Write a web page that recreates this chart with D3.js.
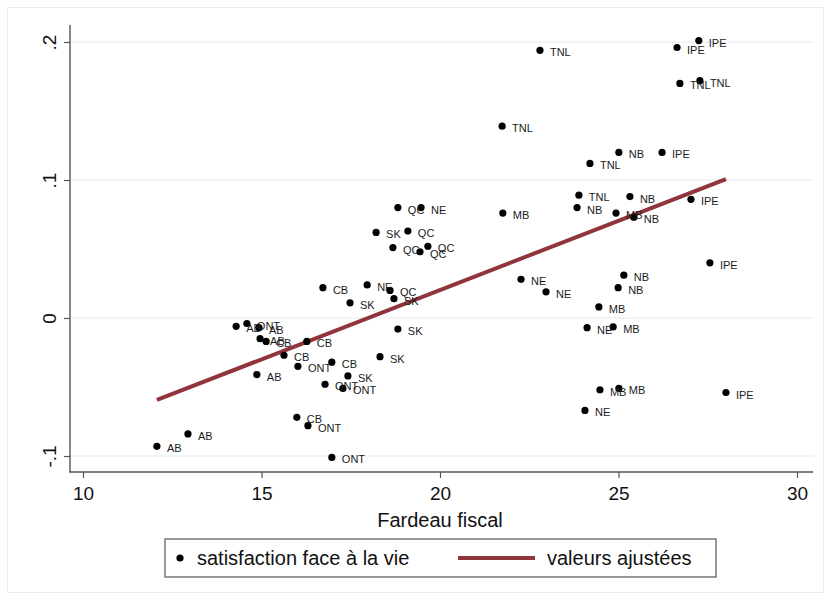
<!DOCTYPE html>
<html>
<head>
<meta charset="utf-8">
<script src="https://cdn.jsdelivr.net/npm/d3@7"></script>
<style>
  body { margin: 0; background: #fff; }
  svg { display: block; font-family: "Liberation Sans", Arial, Helvetica, sans-serif; }
</style>
</head>
<body>
<svg id="chart" width="831" height="600"></svg>
<script>
// ---- data ----
const provinces = ["TNL","IPE","IPE","TNL","TNL","TNL","NB","IPE","TNL","TNL",
  "NB","IPE","NB","MB","MB","NB","QC","NE","SK","QC",
  "QC","QC","QC","CB","NE","QC","SK","SK","NE","NE",
  "NB","NB","MB","NE","MB","IPE","SK","MB","MB","NE",
  "IPE","AB","ONT","AB","AB","CB","CB","CB","ONT","CB",
  "SK","AB","SK","ONT","ONT","CB","ONT","ONT","AB","AB"];
const fardeau = [22.80,27.25,26.64,27.28,26.72,21.74,25.01,26.22,24.20,23.89,
  25.32,27.03,23.84,21.76,24.93,25.43,18.82,19.47,18.21,19.10,
  18.68,19.66,19.44,16.72,17.96,18.60,17.48,18.71,22.27,22.97,
  25.15,24.99,24.45,24.12,24.85,27.56,18.82,24.48,25.01,24.06,
  28.01,14.29,14.59,14.93,14.96,15.13,16.27,15.63,16.02,16.97,
  18.32,14.87,17.42,16.78,17.28,15.99,16.30,16.97,12.94,12.07];
const satisfaction = [0.194,0.201,0.196,0.172,0.170,0.139,0.120,0.120,0.112,0.089,
  0.088,0.086,0.080,0.076,0.076,0.073,0.080,0.080,0.062,0.063,
  0.051,0.052,0.048,0.022,0.024,0.020,0.011,0.014,0.028,0.019,
  0.031,0.022,0.008,-0.007,-0.0065,0.040,-0.008,-0.052,-0.051,-0.067,
  -0.054,-0.006,-0.004,-0.007,-0.015,-0.017,-0.017,-0.027,-0.035,-0.032,
  -0.028,-0.041,-0.042,-0.048,-0.051,-0.072,-0.078,-0.101,-0.084,-0.093];
const fitX = [12.07, 28.01];
const fitY = [-0.0594, 0.1007];
const xTicks = [10, 15, 20, 25, 30];
const yTicks = [-0.1, 0, 0.1, 0.2];
const yTickLabels = ["-.1", "0", ".1", ".2"];
const xTitle = "Fardeau fiscal";
const legendLabels = ["satisfaction face à la vie", "valeurs ajustées"];

// ---- drawing ----
const svg = d3.select("#chart");
const maroon = "rgb(144,53,59)";

svg.append("rect").attr("x", 7.5).attr("y", 7.5).attr("width", 816).attr("height", 585)
  .attr("fill", "#fff").attr("stroke", "#ebebeb");

const x = d3.scaleLinear().domain([10, 30]).range([83, 797]);
const y = d3.scaleLinear().domain([-0.1, 0.2]).range([456, 42]);

const plotLeft = 70, plotRight = 813, plotBottom = 472, plotTop = 25;

// gridlines
svg.append("g").selectAll("line").data(yTicks).join("line")
  .attr("x1", plotLeft).attr("x2", plotRight)
  .attr("y1", d => y(d)).attr("y2", d => y(d))
  .attr("stroke", "#e4ebee").attr("stroke-width", 1.2);

// y axis
const yAxis = d3.axisLeft(y).tickValues(yTicks)
  .tickFormat((d, i) => yTickLabels[i]).tickSize(6).tickPadding(0);
const gy = svg.append("g").attr("transform", `translate(${plotLeft},0)`).call(yAxis);
gy.select(".domain").remove();
gy.selectAll(".tick line").attr("stroke", "#555").attr("stroke-width", 1.2);
gy.selectAll(".tick text").remove();
gy.selectAll(".tick").append("text")
  .attr("transform", "translate(-14,0) rotate(-90)")
  .attr("text-anchor", "middle").attr("fill", "#111")
  .attr("font-size", 19)
  .text((d, i) => yTickLabels[i]);
svg.append("line").attr("x1", plotLeft).attr("x2", plotLeft)
  .attr("y1", plotTop).attr("y2", plotBottom)
  .attr("stroke", "#555").attr("stroke-width", 1.4);

// x axis
const xAxis = d3.axisBottom(x).tickValues(xTicks).tickFormat(d3.format("d"))
  .tickSize(6).tickPadding(9);
const gx = svg.append("g").attr("transform", `translate(0,${plotBottom})`).call(xAxis);
gx.select(".domain").remove();
gx.selectAll(".tick line").attr("stroke", "#555").attr("stroke-width", 1.2);
gx.selectAll(".tick text").attr("font-size", 19).attr("fill", "#111")
  .attr("font-family", "Liberation Sans, Arial, sans-serif");
svg.append("line").attr("x1", plotLeft - 1).attr("x2", plotRight)
  .attr("y1", plotBottom).attr("y2", plotBottom)
  .attr("stroke", "#555").attr("stroke-width", 1.4);

svg.append("text").attr("x", x(20)).attr("y", 527)
  .attr("text-anchor", "middle").attr("font-size", 20).attr("fill", "#111")
  .text(xTitle);

// fitted line
const fitData = fitX.map((v, i) => [v, fitY[i]]);
svg.append("path").datum(fitData)
  .attr("d", d3.line().x(d => x(d[0])).y(d => y(d[1])))
  .attr("stroke", maroon).attr("stroke-width", 4).attr("fill", "none");

// points
const pts = provinces.map((p, i) => ({ p, fx: fardeau[i], s: satisfaction[i] }));
const gp = svg.append("g");
gp.selectAll("circle").data(pts).join("circle")
  .attr("cx", d => x(d.fx)).attr("cy", d => y(d.s)).attr("r", 3.6)
  .attr("fill", "#000");
gp.selectAll("text").data(pts).join("text")
  .attr("x", d => x(d.fx) + 10).attr("y", d => y(d.s) + 6)
  .attr("font-size", 11).attr("fill", "#1a1a1a")
  .text(d => d.p);

// legend
const lg = svg.append("g");
lg.append("rect").attr("x", 165).attr("y", 539).attr("width", 551).attr("height", 38)
  .attr("fill", "#fff").attr("stroke", "#555").attr("stroke-width", 1.2);
lg.append("circle").attr("cx", 180).attr("cy", 558).attr("r", 3.6).attr("fill", "#000");
lg.append("text").attr("x", 197).attr("y", 565).attr("font-size", 20).attr("fill", "#111")
  .text(legendLabels[0]);
lg.append("line").attr("x1", 458).attr("x2", 535).attr("y1", 558).attr("y2", 558)
  .attr("stroke", maroon).attr("stroke-width", 4);
lg.append("text").attr("x", 547).attr("y", 565).attr("font-size", 20).attr("fill", "#111")
  .text(legendLabels[1]);
</script>
</body>
</html>
